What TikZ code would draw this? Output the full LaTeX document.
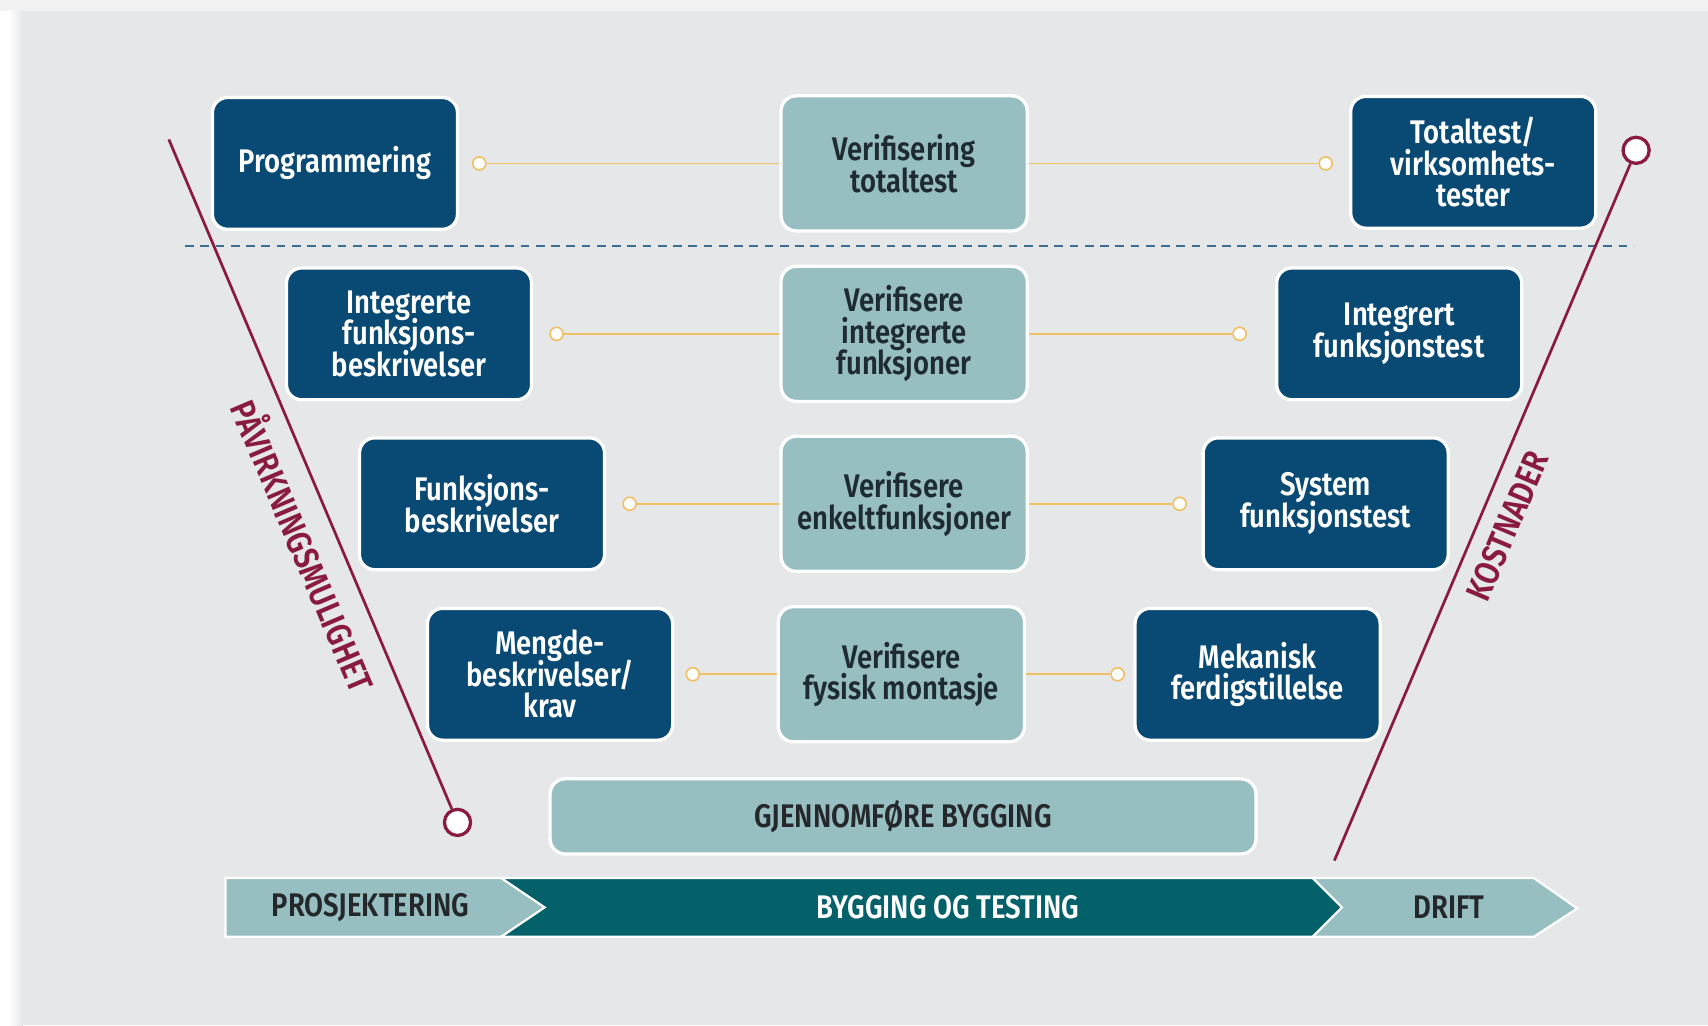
\documentclass[tikz,border=0pt]{standalone}
\usepackage{fontspec}
\setmainfont{Fira Sans}[FakeStretch=0.84, BoldFont={* SemiBold}]
\definecolor{cNavy}{HTML}{084A73}
\definecolor{cSage}{HTML}{97BFC2}
\definecolor{cTealBand}{HTML}{04616A}
\definecolor{cWine}{HTML}{8A1B40}
\definecolor{cGold}{HTML}{F0C064}
\definecolor{cDash}{HTML}{3A6E93}
\definecolor{cPanel}{HTML}{E6E7E9}
\definecolor{cInk}{HTML}{1F2B33}
\definecolor{cDark}{HTML}{25282B}
\newcommand{\boxfnt}{\bfseries\fontsize{30}{29}\selectfont\lineskiplimit=-100pt\lineskip=0pt}
\newcommand{\bandfnt}{\bfseries\fontsize{30}{30}\selectfont}
\tikzset{
  darkbox/.style={rounded corners=14pt, draw=white, line width=3pt, fill=cNavy,
    text=white, align=center, minimum width=225pt, minimum height=121pt,
    inner sep=0pt, font=\boxfnt},
  lightbox/.style={darkbox, fill=cSage, text=cInk, minimum width=226pt, minimum height=124pt},
  yline/.style={draw=cGold, line width=1.5pt},
  ydot/.style={circle, draw=cGold, fill=white, line width=1.5pt, minimum size=12pt, inner sep=0pt},
  wline/.style={draw=cWine, line width=2.5pt},
  wdot/.style={circle, draw=cWine, fill=white, line width=3pt, minimum size=24pt, inner sep=0pt},
  bandtxt/.style={font=\bandfnt, inner sep=0pt},
  winetxt/.style={font=\bfseries\fontsize{32}{32}\selectfont, text=cWine, inner sep=0pt},
}
\begin{document}
\begin{tikzpicture}[x=1pt,y=-1pt]
\useasboundingbox (0,0) rectangle (1568,941);
% background
\fill[white!95!black] (0,0) rectangle (1568,941);
\fill[white] (0,10) rectangle (20,941);
\shade[left color=white, right color=cPanel] (8,10) rectangle (21,941);
\fill[cPanel] (20,10) rectangle (1568,941);

% dashed separator
\coordinate (dsA) at (170,226);
\coordinate (dsB) at (1500,226);
\draw[cDash, line width=1.5pt, dash pattern=on 8pt off 6pt] (dsA) -- (dsB);

% wine lines
\coordinate (wlTop) at (155,128);
\node[wdot] (wlEnd) at (420,755) {};
\draw[wline] (wlTop) -- (wlEnd);
\coordinate (wrBot) at (1225,790);
\node[wdot] (wrEnd) at (1502,138) {};
\draw[wline] (wrBot) -- (wrEnd);
\node[winetxt, rotate=-67] (lblL) at (281,500) {PÅVIRKNINGSMULIGHET};
\node[winetxt, rotate=67] (lblR) at (1384,483) {KOSTNADER};

% row 1
\node[darkbox] (p1) at (307.5,150) {Programmering};
\node[lightbox] (v1) at (830,150) {Verifisering\\totaltest};
\node[darkbox] (t1) at (1352.5,149) {Totaltest/\\virksomhets-\\tester};
% row 2
\node[darkbox] (p2) at (375.5,306.5) {Integrerte\\funksjons-\\beskrivelser};
\node[lightbox] (v2) at (830,306.5) {Verifisere\\integrerte\\funksjoner};
\node[darkbox] (t2) at (1284.5,306.5) {Integrert\\funksjonstest};
% row 3
\node[darkbox] (p3) at (442.5,462.5) {Funksjons-\\beskrivelser};
\node[lightbox] (v3) at (830,462.5) {Verifisere\\enkeltfunksjoner};
\node[darkbox] (t3) at (1217,462.5) {System\\funksjonstest};
% row 4
\node[darkbox] (p4) at (505,619) {Mengde-\\beskrivelser/\\krav};
\node[lightbox] (v4) at (827.5,619) {Verifisere\\fysisk montasje};
\node[darkbox] (t4) at (1154.5,619) {Mekanisk\\ferdigstillelse};

% connectors
\node[ydot] (d1l) at (440,150) {};
\node[ydot] (d1r) at (1217,150) {};
\node[ydot] (d2l) at (511,306.5) {};
\node[ydot] (d2r) at (1138,306.5) {};
\node[ydot] (d3l) at (578,462.5) {};
\node[ydot] (d3r) at (1083,462.5) {};
\node[ydot] (d4l) at (636,619) {};
\node[ydot] (d4r) at (1026,619) {};
\foreach \i in {1,2,3,4}{
  \draw[yline] (d\i l.east) -- (v\i.west);
  \draw[yline] (v\i.east) -- (d\i r.west);
}

% gjennomfore
\node[lightbox, minimum width=648pt, minimum height=69pt, font=\bandfnt, text=cDark] (gb) at (829,749.5) {GJENNOMFØRE BYGGING};

% bottom band
\fill[cSage] (207,806) -- (460,806) -- (500,833) -- (460,860) -- (207,860) -- cycle;
\fill[cTealBand] (460,806) -- (1205,806) -- (1232,833) -- (1205,860) -- (460,860) -- (500,833) -- cycle;
\fill[cSage] (1205,806) -- (1408,806) -- (1448,834) -- (1408,860) -- (1205,860) -- (1232,833) -- cycle;
\draw[white, line width=2pt, line join=miter] (207,806) -- (1408,806) -- (1448,834) -- (1408,860) -- (207,860) -- cycle;
\draw[white, line width=2pt] (460,806) -- (500,833) -- (460,860);
\draw[white, line width=2pt] (1205,806) -- (1232,833) -- (1205,860);
\node[bandtxt, text=cDark] (bp) at (340,833) {PROSJEKTERING};
\node[bandtxt, text=white] (bb) at (870,833) {BYGGING OG TESTING};
\node[bandtxt, text=cDark] (bd) at (1330,833) {DRIFT};
\end{tikzpicture}
\end{document}
